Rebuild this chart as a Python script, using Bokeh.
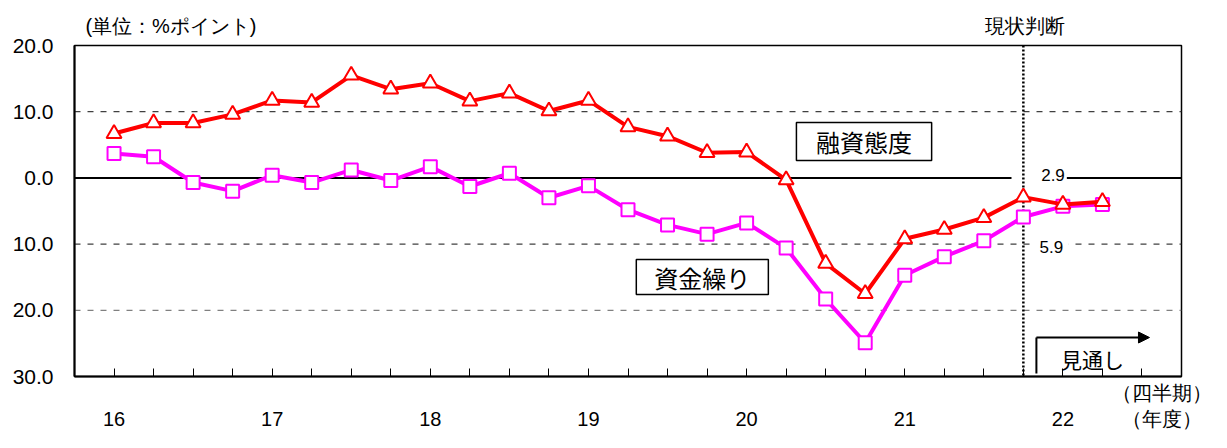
from bokeh.plotting import figure
from bokeh.models import (Range1d, FixedTicker, Span, Label, BoxAnnotation, Arrow, NormalHead,
                          LinearAxis)
from bokeh.embed import file_html
from bokeh.resources import INLINE

# ---------------- data ----------------
quarters = ["16Q1", "16Q2", "16Q3", "16Q4", "17Q1", "17Q2", "17Q3", "17Q4",
            "18Q1", "18Q2", "18Q3", "18Q4", "19Q1", "19Q2", "19Q3", "19Q4",
            "20Q1", "20Q2", "20Q3", "20Q4", "21Q1", "21Q2", "21Q3", "21Q4",
            "22Q1", "22Q2"]
years = ["16", "17", "18", "19", "20", "21", "22"]
lending_attitude = [6.7, 8.3, 8.3, 9.6, 11.7, 11.4, 15.5, 13.4, 14.3, 11.6, 12.8, 10.1,
                    11.7, 7.7, 6.3, 3.8, 3.9, -0.3, -12.9, -17.5, -9.2, -7.8, -6.0, -2.9,
                    -4.0, -3.6]
cash_flow = [3.7, 3.2, -0.7, -2.0, 0.4, -0.7, 1.2, -0.4, 1.7, -1.3, 0.7, -3.0,
             -1.2, -4.8, -7.1, -8.5, -6.8, -10.6, -18.3, -24.9, -14.7, -11.9, -9.5, -5.9,
             -4.3, -4.0]
y_ticks = [20, 10, 0, -10, -20, -30]
y_tick_labels = ["20.0", "10.0", "0.0", "10.0", "20.0", "30.0"]
unit_text = "(単位：%ポイント)"
current_text = "現状判断"
period_text = "（四半期）\n（年度）"
current_idx = quarters.index("21Q4")

x = list(range(len(quarters)))

JP = "Noto Sans CJK JP"
NUM = "Liberation Sans"

p = figure(width=1211, height=432, output_backend="svg", toolbar_location=None,
           x_range=Range1d(-1, 27), y_range=Range1d(-30, 20),
           min_border_left=74, min_border_right=30, min_border_top=45, min_border_bottom=56)
p.background_fill_color = "white"
p.border_fill_color = "white"
p.outline_line_color = "black"
p.outline_line_width = 1.5
p.xgrid.visible = False
p.ygrid.visible = False

# y axis
p.yaxis.ticker = FixedTicker(ticks=y_ticks)
p.yaxis.major_label_overrides = {t: l for t, l in zip(y_ticks, y_tick_labels)}
p.yaxis.major_tick_in = 0
p.yaxis.major_tick_out = 0
p.yaxis.minor_tick_line_color = None
p.yaxis.axis_line_width = 2
p.yaxis.major_label_standoff = 21
p.yaxis.major_label_text_font = NUM
p.yaxis.major_label_text_font_size = "21px"
p.yaxis.major_label_text_color = "black"

# x axis: quarter tick marks (minor) + year labels (major, second line)
year_pos = [i for i in x if i % 4 == 0]
period_pos = 26.6
x_major = year_pos + [period_pos]
x_labels = {pos: "\n" + years[k] for k, pos in enumerate(year_pos)}
x_labels[period_pos] = period_text
p.xaxis.ticker = FixedTicker(ticks=x_major, minor_ticks=list(range(0, 27)))
p.xaxis.major_label_overrides = x_labels
p.xaxis.major_tick_in = 0
p.xaxis.major_tick_out = 0
p.xaxis.minor_tick_in = 8
p.xaxis.minor_tick_out = 0
p.xaxis.minor_tick_line_color = "black"
p.xaxis.minor_tick_line_width = 1
p.xaxis.axis_line_width = 2
p.xaxis.major_label_standoff = 5
p.xaxis.major_label_text_font = NUM
p.xaxis.major_label_text_font_size = "20px"
p.xaxis.major_label_text_color = "black"

# top axis carrying the unit note and the "current" header
top_pos = [1.44, 23.05]
top_axis = LinearAxis(ticker=FixedTicker(ticks=top_pos),
                      major_label_overrides={top_pos[0]: unit_text, top_pos[1]: current_text},
                      axis_line_color=None, major_tick_line_color=None,
                      minor_tick_line_color=None, major_label_standoff=3,
                      major_label_text_font=NUM, major_label_text_font_size="20px",
                      major_label_text_color="black")
p.add_layout(top_axis, "above")

# reference lines
for loc, col in [(10, "#404040"), (-10, "#404040"), (-20, "#808080")]:
    p.add_layout(Span(location=loc, dimension="width", line_color=col, line_width=1.3,
                      line_dash="6 7", level="underlay"))
p.add_layout(Span(location=0, dimension="width", line_color="black", line_width=2,
                  level="underlay"))
# white gaps behind value labels
p.add_layout(BoxAnnotation(left=22.7, right=24.1, top=1.5, bottom=-1.5, fill_color="white",
                           fill_alpha=1, line_color=None, level="underlay"))
p.add_layout(BoxAnnotation(left=23.2, right=24.15, top=-8.6, bottom=-11.4, fill_color="white",
                           fill_alpha=1, line_color=None, level="underlay"))
p.add_layout(Span(location=current_idx, dimension="height", line_color="black", line_width=2.5,
                  line_dash="2 2", level="underlay"))

# series
p.line(x, cash_flow, line_color="#FF00FF", line_width=4)
p.scatter(x, cash_flow, marker="square", size=13, fill_color="white", line_color="#FF00FF",
          line_width=2)
p.line(x, lending_attitude, line_color="#FF0000", line_width=4)
p.scatter(x, lending_attitude, marker="triangle", size=15, fill_color="white",
          line_color="#FF0000", line_width=2)

# value labels
p.add_layout(Label(x=23.75, y=0.4, text="2.9", text_font=NUM, text_font_size="17px",
                   text_align="center", text_baseline="middle", text_color="black"))
p.add_layout(Label(x=23.71, y=-10.4, text="5.9", text_font=NUM, text_font_size="17px",
                   text_align="center", text_baseline="middle", text_color="black"))

# series name boxes
p.add_layout(BoxAnnotation(left=17.26, right=20.68, top=8.37, bottom=2.63, fill_color="white",
                           fill_alpha=1, line_color="black", line_alpha=1, line_width=1.5,
                           level="annotation"))
p.add_layout(Label(x=18.97, y=5.5, text="融資態度", text_font=JP, text_font_size="24px",
                   text_align="center", text_baseline="middle", text_color="black"))
p.add_layout(BoxAnnotation(left=13.21, right=16.55, top=-12.33, bottom=-17.61, fill_color="white",
                           fill_alpha=1, line_color="black", line_alpha=1, line_width=1.5,
                           level="annotation"))
p.add_layout(Label(x=14.88, y=-14.97, text="資金繰り", text_font=JP, text_font_size="24px",
                   text_align="center", text_baseline="middle", text_color="black"))

# forecast arrow
p.add_layout(Arrow(end=None, x_start=23.33, y_start=-29.55, x_end=23.33, y_end=-24.11,
                   line_color="black", line_width=2))
p.add_layout(Arrow(end=NormalHead(size=11, fill_color="black", line_color="black"),
                   x_start=23.33, y_start=-24.11, x_end=26.19, y_end=-24.11,
                   line_color="black", line_width=2))
p.add_layout(Label(x=24.75, y=-27.43, text="見通し", text_font=JP, text_font_size="21px",
                   text_align="center", text_baseline="middle", text_color="black"))

open("out.html", "w").write(file_html(p, INLINE))
